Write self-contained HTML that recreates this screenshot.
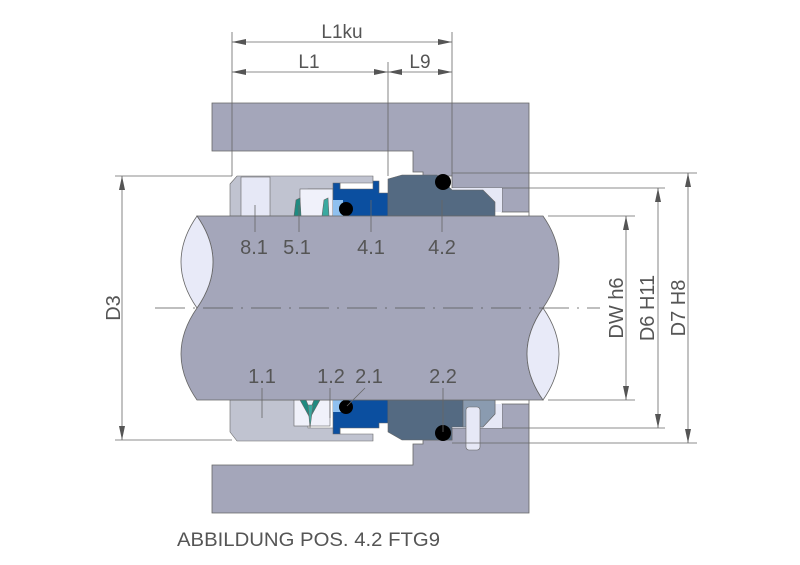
<!DOCTYPE html>
<html><head><meta charset="utf-8"><style>html,body{margin:0;padding:0;background:#fff}svg{display:block}</style></head>
<body>
<svg width="800" height="565" viewBox="0 0 800 565" xmlns="http://www.w3.org/2000/svg" font-family="Liberation Sans, sans-serif">
<defs>
<marker id="a" markerWidth="14" markerHeight="6" refX="14" refY="3" orient="auto" markerUnits="userSpaceOnUse"><path d="M0,0 L14,3 L0,6z" fill="#555"/></marker>
<marker id="b" markerWidth="14" markerHeight="6" refX="0" refY="3" orient="auto" markerUnits="userSpaceOnUse"><path d="M14,0 L0,3 L14,6z" fill="#555"/></marker>
</defs>
<!-- housing -->
<path d="M212,103 H529 V513 H212 V465 H413 V444 H423 V440 H452 V428 H502 V404 H529 V212 H502 V188 H452 V176 H423 V172 H413 V151 H212 Z" fill="#a4a6ba" stroke="#666" stroke-width="0.8"/>
<!-- cavities -->
<rect x="452" y="188" width="50" height="24" fill="#e6e8f6"/>
<rect x="452" y="404" width="50" height="24" fill="#e6e8f6"/>
<!-- top half seal parts -->
<g stroke="#666" stroke-width="0.6">
<path d="M230,184 L237,176 H373 V183 H340 V189 H308 V216 H230 Z" fill="#c0c3d0"/>
<rect x="241" y="177" width="29" height="39" fill="#e6e8f6"/>
<rect x="300" y="189" width="33" height="27" fill="#f0f1fa"/>
<path d="M294,216 L296,200 L300,198 L301,216Z" fill="#1f8a80"/>
<path d="M322,216 L324,200 L328,198 L329,216Z" fill="#3aa9a0"/>
<path d="M333,183 H340 V189 H373 V181 H379 V193 H388 V216 H333 Z" fill="#0b4fa0"/>
<rect x="333" y="200" width="10" height="16" fill="#8fc0ef" stroke="none"/>
<path d="M388,179 L402,175 H437 L452,190 H483 L495,202 V216 H388 Z" fill="#546a82"/>
</g>
<!-- bottom half seal parts -->
<g stroke="#666" stroke-width="0.6">
<path d="M230,432 L237,441 H373 V434 H340 V428 H308 V400 H230 Z" fill="#c0c3d0"/>
<rect x="294" y="400" width="36" height="26" fill="#f0f1fa"/>
<path d="M300,400 L310,418 L320,400 L314,400 L310,410 L306,400Z" fill="#1f8a80"/>
<path d="M308,405 L310,428 L313,405Z" fill="#3aa9a0"/>
<path d="M333,434 H340 V428 H379 V423 H388 V400 H333 Z" fill="#0b4fa0"/>
<rect x="333" y="400" width="10" height="12" fill="#8fc0ef" stroke="none"/>
<path d="M388,400 H495 L495,414 L483,427 H452 V440 H402 L388,432 Z" fill="#546a82"/>
<path d="M463,400 H495 V414 L483,427 H463Z" fill="#8a9bb0"/>
<rect x="466" y="407" width="14" height="43" rx="3" fill="#e6e8f6"/>
</g>
<!-- o-rings -->
<circle cx="443" cy="182" r="8" fill="#000"/>
<circle cx="346" cy="209" r="7" fill="#000"/>
<circle cx="346" cy="407" r="7" fill="#000"/>
<circle cx="443" cy="433" r="8" fill="#000"/>
<!-- shaft -->
<path d="M197,216 H543 Q575,262 543,308 Q511,354 543,400 H197 Q165,354 197,308 Q229,262 197,216 Z" fill="#a4a6ba" stroke="#666" stroke-width="0.8"/>
<path d="M197,216 Q229,262 197,308 Q165,262 197,216Z" fill="#e8eaf8" stroke="#666" stroke-width="0.8"/>
<path d="M543,308 Q511,354 543,400 Q575,354 543,308Z" fill="#e8eaf8" stroke="#666" stroke-width="0.8"/>
<line x1="155" y1="308" x2="600" y2="308" stroke="#555" stroke-width="0.8" stroke-dasharray="30,8,2,8"/>
<!-- dimension lines -->
<g stroke="#666" stroke-width="0.8" fill="none">
<line x1="232" y1="32" x2="232" y2="176"/>
<line x1="388" y1="62" x2="388" y2="176"/>
<line x1="452" y1="32" x2="452" y2="176"/>
<line x1="232" y1="42" x2="452" y2="42" marker-start="url(#b)" marker-end="url(#a)"/>
<line x1="232" y1="72" x2="388" y2="72" marker-start="url(#b)" marker-end="url(#a)"/>
<line x1="388" y1="72" x2="452" y2="72" marker-start="url(#b)" marker-end="url(#a)"/>
<line x1="115" y1="176" x2="232" y2="176"/>
<line x1="115" y1="440" x2="232" y2="440"/>
<line x1="122" y1="176" x2="122" y2="440" marker-start="url(#b)" marker-end="url(#a)"/>
<line x1="452" y1="173" x2="697" y2="173"/>
<line x1="502" y1="188" x2="665" y2="188"/>
<line x1="548" y1="216" x2="635" y2="216"/>
<line x1="548" y1="400" x2="635" y2="400"/>
<line x1="502" y1="428" x2="665" y2="428"/>
<line x1="452" y1="443" x2="697" y2="443"/>
<line x1="626" y1="216" x2="626" y2="400" marker-start="url(#b)" marker-end="url(#a)"/>
<line x1="658" y1="188" x2="658" y2="428" marker-start="url(#b)" marker-end="url(#a)"/>
<line x1="688" y1="173" x2="688" y2="443" marker-start="url(#b)" marker-end="url(#a)"/>
<!-- leaders -->
<line x1="255" y1="205" x2="255" y2="232"/>
<line x1="299" y1="205" x2="299" y2="232"/>
<line x1="371" y1="200" x2="371" y2="232"/>
<line x1="442" y1="200" x2="442" y2="232"/>
<line x1="262" y1="388" x2="262" y2="418"/>
<line x1="330" y1="388" x2="330" y2="418"/>
<line x1="365" y1="388" x2="347" y2="406"/>
<line x1="443" y1="388" x2="443" y2="432"/>
</g>
<g fill="#555" font-size="20">
<text x="342" y="38" text-anchor="middle" font-size="19">L1ku</text>
<text x="309" y="68" text-anchor="middle" font-size="19">L1</text>
<text x="420" y="68" text-anchor="middle" font-size="19">L9</text>
<text x="254" y="254" text-anchor="middle">8.1</text>
<text x="297" y="254" text-anchor="middle">5.1</text>
<text x="371" y="254" text-anchor="middle">4.1</text>
<text x="442" y="254" text-anchor="middle">4.2</text>
<text x="262" y="383" text-anchor="middle">1.1</text>
<text x="331" y="383" text-anchor="middle">1.2</text>
<text x="369" y="383" text-anchor="middle">2.1</text>
<text x="443" y="383" text-anchor="middle">2.2</text>
<text transform="translate(120,308) rotate(-90)" text-anchor="middle">D3</text>
<text transform="translate(623,308) rotate(-90)" text-anchor="middle">DW h6</text>
<text transform="translate(654,308) rotate(-90)" text-anchor="middle">D6 H11</text>
<text transform="translate(685,308) rotate(-90)" text-anchor="middle">D7 H8</text>
<text x="177" y="546" font-size="19" textLength="263" lengthAdjust="spacingAndGlyphs">ABBILDUNG POS. 4.2 FTG9</text>
</g>
</svg>
</body></html>
